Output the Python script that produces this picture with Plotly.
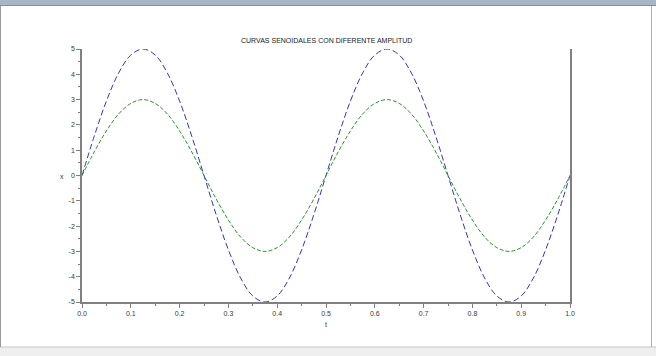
import plotly.graph_objects as go

t = [0.0, 0.025, 0.05, 0.075, 0.1, 0.125, 0.15, 0.175, 0.2, 0.225, 0.25,
     0.275, 0.3, 0.325, 0.35, 0.375, 0.4, 0.425, 0.45, 0.475, 0.5,
     0.525, 0.55, 0.575, 0.6, 0.625, 0.65, 0.675, 0.7, 0.725, 0.75,
     0.775, 0.8, 0.825, 0.85, 0.875, 0.9, 0.925, 0.95, 0.975, 1.0]

x_amp5 = [0.0, 1.55, 2.94, 4.05, 4.76, 5.0, 4.76, 4.05, 2.94, 1.55, 0.0,
          -1.55, -2.94, -4.05, -4.76, -5.0, -4.76, -4.05, -2.94, -1.55, 0.0,
          1.55, 2.94, 4.05, 4.76, 5.0, 4.76, 4.05, 2.94, 1.55, 0.0,
          -1.55, -2.94, -4.05, -4.76, -5.0, -4.76, -4.05, -2.94, -1.55, 0.0]

x_amp3 = [0.0, 0.93, 1.76, 2.43, 2.85, 3.0, 2.85, 2.43, 1.76, 0.93, 0.0,
          -0.93, -1.76, -2.43, -2.85, -3.0, -2.85, -2.43, -1.76, -0.93, 0.0,
          0.93, 1.76, 2.43, 2.85, 3.0, 2.85, 2.43, 1.76, 0.93, 0.0,
          -0.93, -1.76, -2.43, -2.85, -3.0, -2.85, -2.43, -1.76, -0.93, 0.0]

title_text = "CURVAS SENOIDALES CON DIFERENTE AMPLITUD"
x_ticks = [0.0, 0.1, 0.2, 0.3, 0.4, 0.5, 0.6, 0.7, 0.8, 0.9, 1.0]
x_ticklabels = ["0.0", "0.1", "0.2", "0.3", "0.4", "0.5", "0.6", "0.7", "0.8", "0.9", "1.0"]
y_ticks = [-5, -4, -3, -2, -1, 0, 1, 2, 3, 4, 5]
y_ticklabels = ["-5", "-4", "-3", "-2", "-1", "0", "1", "2", "3", "4", "5"]

fig = go.Figure()
fig.add_trace(go.Scatter(x=t, y=x_amp5, mode="lines", line_shape="spline",
                         line=dict(color="rgb(50,50,210)", width=1, dash="6px,3px"),
                         showlegend=False))
fig.add_trace(go.Scatter(x=t, y=x_amp3, mode="lines", line_shape="spline",
                         line=dict(color="rgb(40,150,40)", width=1, dash="4px,2px"),
                         showlegend=False))

W, H = 656, 356
L, R, T, B = 82, 86, 49, 54
pw, ph = W - L - R, H - T - B

def px(xpx):
    return (xpx - L) / pw

def py(ypx):
    return (H - B - ypx) / ph

axis_font = dict(family="Liberation Sans, Arial, sans-serif", size=7, color="#3a3a3a")

fig.update_layout(
    template="none",
    width=W, height=H,
    margin=dict(l=L, r=R, t=T, b=B),
    paper_bgcolor="white", plot_bgcolor="white",
    showlegend=False,
    xaxis=dict(range=[0, 1], tickvals=x_ticks, ticktext=x_ticklabels,
               showgrid=False, zeroline=False, showline=True,
               linecolor="#808080", linewidth=1.5, ticks="outside",
               ticklen=4, tickcolor="#808080", tickfont=axis_font,
               minor=dict(dtick=0.05, ticks="outside", ticklen=2, tickcolor="#808080")),
    yaxis=dict(range=[-5, 5], tickvals=y_ticks, ticktext=y_ticklabels,
               showgrid=False, zeroline=False, showline=True, mirror=True,
               linecolor="#808080", linewidth=1.5, ticks="outside",
               ticklen=4, tickcolor="#808080", tickfont=axis_font,
               minor=dict(dtick=0.5, ticks="outside", ticklen=2, tickcolor="#808080")),
)

fig.add_annotation(text=title_text, x=px(326), y=py(40), xref="paper", yref="paper",
                   xanchor="center", yanchor="middle",
                   showarrow=False, font=dict(family="Liberation Sans, Arial, sans-serif", size=7, color="#222222"))
fig.add_annotation(text="x", x=px(62), y=py(176), xref="paper", yref="paper",
                   xanchor="center", yanchor="middle",
                   showarrow=False, font=axis_font)
fig.add_annotation(text="t", x=px(326), y=py(324), xref="paper", yref="paper",
                   xanchor="center", yanchor="middle",
                   showarrow=False, font=axis_font)

# window frame
fig.add_shape(type="rect", xref="paper", yref="paper", x0=px(0), x1=px(W), y0=py(5), y1=py(0),
              fillcolor="#a6b6c9", line=dict(width=0), layer="below")
fig.add_shape(type="line", xref="paper", yref="paper", x0=px(0), x1=px(W), y0=py(5.5), y1=py(5.5),
              line=dict(color="#7890a8", width=1))
fig.add_shape(type="rect", xref="paper", yref="paper", x0=px(0), x1=px(W), y0=py(H), y1=py(347),
              fillcolor="#efefef", line=dict(width=0), layer="below")
fig.add_shape(type="line", xref="paper", yref="paper", x0=px(0), x1=px(W), y0=py(347), y1=py(347),
              line=dict(color="#c8c8c8", width=1))
fig.add_shape(type="line", xref="paper", yref="paper", x0=px(0.5), x1=px(0.5), y0=py(347), y1=py(6),
              line=dict(color="#9a9a9a", width=1))
fig.add_shape(type="line", xref="paper", yref="paper", x0=px(651.5), x1=px(651.5), y0=py(347), y1=py(6),
              line=dict(color="#b0b0b0", width=1))

fig.write_html("out.html")
